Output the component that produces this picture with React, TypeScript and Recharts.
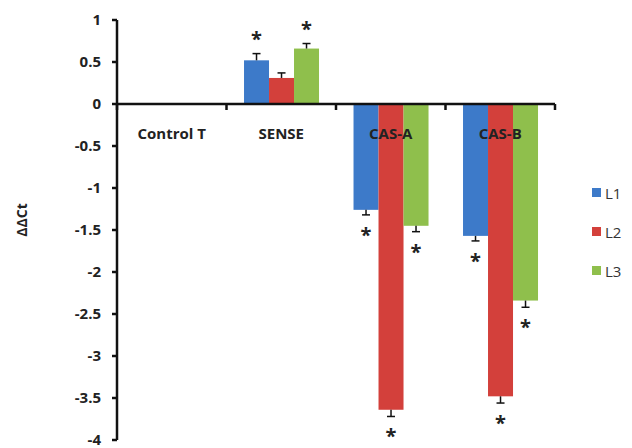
import React from 'react';
import { BarChart, Bar, XAxis, YAxis, ReferenceLine, Label } from 'recharts';

const categories = ['Control T', 'SENSE', 'CAS-A', 'CAS-B'];
const l1 = [0, 0.52, -1.26, -1.57];
const l2 = [0, 0.31, -3.64, -3.48];
const l3 = [0, 0.66, -1.45, -2.34];
const l1Err = [0, 0.08, 0.06, 0.06];
const l2Err = [0, 0.06, 0.08, 0.08];
const l3Err = [0, 0.06, 0.07, 0.08];
const l1Sig = [false, true, true, true];
const l2Sig = [false, false, true, true];
const l3Sig = [false, true, true, true];
const yTicks = [-4, -3.5, -3, -2.5, -2, -1.5, -1, -0.5, 0, 0.5, 1];

const series = [
  { key: 'L1', color: '#3d7ac9' },
  { key: 'L2', color: '#d3403b' },
  { key: 'L3', color: '#8fbf4c' },
];

const data = categories.map((name, i) => ({
  name,
  L1: l1[i], L2: l2[i], L3: l3[i],
  L1err: l1Err[i], L2err: l2Err[i], L3err: l3Err[i],
  L1sig: l1Sig[i], L2sig: l2Sig[i], L3sig: l3Sig[i],
}));

const W = 632;
const H = 448;
const TOP = 20;
const BOTTOM = 8;
const LEFT_AXIS = 117;
const RIGHT = 77;
const Y_MIN = -4;
const Y_MAX = 1;
const FONT = '"Open Sans", Lato, sans-serif';

// y pixel of the zero line, from the fixed plot geometry
const zeroY = TOP + ((H - TOP - BOTTOM) * (Y_MAX - 0)) / (Y_MAX - Y_MIN);
const bandW = (W - LEFT_AXIS - RIGHT) / categories.length;

const makeShape = (color: string, key: string) => (props: any) => {
  const { x, y, width, height, payload } = props;
  const v = payload[key];
  if (!v) return <g />;
  const top = Math.min(y, y + height);
  const bottom = Math.max(y, y + height);
  const h = bottom - top;
  const errPx = (payload[key + 'err'] * h) / Math.abs(v);
  const cx = x + width / 2;
  const edge = v > 0 ? top : bottom;
  const cap = v > 0 ? edge - errPx : edge + errPx;
  const starY = v > 0 ? cap - 8 : cap + 27;
  return (
    <g>
      <rect x={x} y={top} width={width} height={h} fill={color} />
      <line x1={cx} x2={cx} y1={edge} y2={cap} stroke="#111" strokeWidth={1.5} />
      <line x1={cx - 4} x2={cx + 4} y1={cap} y2={cap} stroke="#111" strokeWidth={1.5} />
      {payload[key + 'sig'] && (
        <text x={cx} y={starY} textAnchor="middle" fontSize={20} fontWeight="bold" fill="#222" fontFamily={FONT}>
          *
        </text>
      )}
    </g>
  );
};

const CategoryTick = (props: any) => {
  const { x, payload, index } = props;
  return (
    <g>
      <line x1={x - bandW / 2} x2={x - bandW / 2} y1={zeroY} y2={zeroY + 6} stroke="#111" strokeWidth={2.5} />
      {index === categories.length - 1 && (
        <line x1={x + bandW / 2} x2={x + bandW / 2} y1={zeroY} y2={zeroY + 6} stroke="#111" strokeWidth={2.5} />
      )}
      <text x={x} y={zeroY + 35} textAnchor="middle" fontSize={15} fontWeight="bold" fill="#222" fontFamily={FONT}>
        {payload.value}
      </text>
    </g>
  );
};

const LegendBox = () => (
  <div style={{ position: 'absolute', left: 592, top: 173, fontFamily: FONT, fontSize: 15, color: '#333' }}>
    {series.map((s) => (
      <div key={s.key} style={{ display: 'flex', alignItems: 'center', height: 39 }}>
        <span style={{ display: 'inline-block', width: 9, height: 9, background: s.color, marginRight: 4 }} />
        {s.key}
      </div>
    ))}
  </div>
);

export default function App() {
  return (
    <div style={{ position: 'absolute', left: 0, top: 0, width: W, height: H, background: '#fff' }}>
      <BarChart
        width={W}
        height={H}
        data={data}
        margin={{ top: TOP, right: RIGHT, bottom: 0, left: 0 }}
        barCategoryGap="16%"
        barGap={0}
      >
        <XAxis
          dataKey="name"
          axisLine={false}
          tickLine={false}
          height={BOTTOM}
          tick={<CategoryTick />}
          interval={0}
        />
        <YAxis
          domain={[Y_MIN, Y_MAX]}
          ticks={yTicks}
          interval={0}
          width={LEFT_AXIS}
          axisLine={{ stroke: '#111', strokeWidth: 2.5 }}
          tickLine={{ stroke: '#111', strokeWidth: 2.5 }}
          tickSize={5}
          tickMargin={11}
          tick={{ fontSize: 15, fontWeight: 'bold', fill: '#222', fontFamily: FONT }}
        >
          <Label
            content={() => (
              <text
                x={21}
                y={220}
                transform="rotate(-90 21 220)"
                textAnchor="middle"
                dominantBaseline="central"
                fontSize={14}
                fontWeight="bold"
                fill="#222"
                fontFamily={FONT}
              >
                ΔΔCt
              </text>
            )}
          />
        </YAxis>
        <ReferenceLine y={0} stroke="#111" strokeWidth={2.5} />
        {series.map((s) => (
          <Bar
            key={s.key}
            dataKey={s.key}
            fill={s.color}
            isAnimationActive={false}
            shape={makeShape(s.color, s.key)}
          />
        ))}
      </BarChart>
      <LegendBox />
    </div>
  );
}
